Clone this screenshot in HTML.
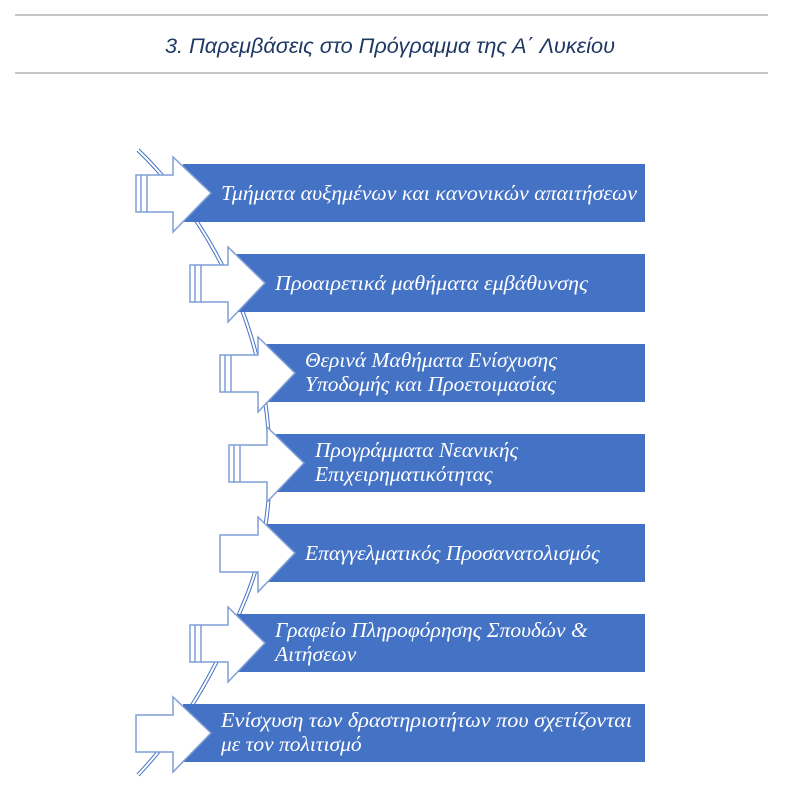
<!DOCTYPE html>
<html><head><meta charset="utf-8"><style>
body{margin:0;background:#fff;width:785px;height:811px;overflow:hidden}
svg{display:block}
</style></head><body>
<svg width="785" height="811" xmlns="http://www.w3.org/2000/svg">
<line x1="15" y1="15" x2="768" y2="15" stroke="#8c8c8c" stroke-width="1"/>
<line x1="15" y1="73" x2="768" y2="73" stroke="#8c8c8c" stroke-width="1"/>
<text x="165" y="53" textLength="450" lengthAdjust="spacingAndGlyphs" font-family="Liberation Sans, sans-serif" font-style="italic" font-size="21" fill="#1f3864">3. Παρεμβάσεις στο Πρόγραμμα της Α΄ Λυκείου</text>
<path d="M138,150 C190,200 250,290 265,400 C275,470 270,540 245,600 C220,660 190,720 138,775" fill="none" stroke="#4472c4" stroke-width="4"/>
<path d="M138,150 C190,200 250,290 265,400 C275,470 270,540 245,600 C220,660 190,720 138,775" fill="none" stroke="#fff" stroke-width="2"/>
<g font-family="Liberation Serif, serif" font-style="italic" font-size="21.5" fill="#fff">
<rect x="183" y="164" width="462" height="58" fill="#4472c4"/>
<polygon points="136,175 173,175 173,157 211,193 173,232 173,212 136,212" fill="#fff" stroke="#7f9fd6" stroke-width="1.5"/>
<line x1="141" y1="175" x2="141" y2="212" stroke="#7f9fd6" stroke-width="1.5"/><line x1="147" y1="175" x2="147" y2="212" stroke="#7f9fd6" stroke-width="1.5"/>
<text x="221" y="200" textLength="416" lengthAdjust="spacingAndGlyphs">Τμήματα αυξημένων και κανονικών απαιτήσεων</text>

<rect x="237" y="254" width="408" height="58" fill="#4472c4"/>
<polygon points="190,265 228,265 228,247 265,283 228,322 228,302 190,302" fill="#fff" stroke="#7f9fd6" stroke-width="1.5"/>
<line x1="195" y1="265" x2="195" y2="302" stroke="#7f9fd6" stroke-width="1.5"/><line x1="201" y1="265" x2="201" y2="302" stroke="#7f9fd6" stroke-width="1.5"/>
<text x="275" y="290" textLength="313" lengthAdjust="spacingAndGlyphs">Προαιρετικά μαθήματα εμβάθυνσης</text>

<rect x="267" y="344" width="378" height="58" fill="#4472c4"/>
<polygon points="220,355 258,355 258,337 295,373 258,412 258,392 220,392" fill="#fff" stroke="#7f9fd6" stroke-width="1.5"/>
<line x1="225" y1="355" x2="225" y2="392" stroke="#7f9fd6" stroke-width="1.5"/><line x1="231" y1="355" x2="231" y2="392" stroke="#7f9fd6" stroke-width="1.5"/>
<text><tspan x="305" y="367">Θερινά Μαθήματα Ενίσχυσης</tspan><tspan x="305" y="391">Υποδομής και Προετοιμασίας</tspan></text>

<rect x="276" y="434" width="369" height="58" fill="#4472c4"/>
<polygon points="229,445 267,445 267,427 304,463 267,502 267,482 229,482" fill="#fff" stroke="#7f9fd6" stroke-width="1.5"/>
<line x1="234" y1="445" x2="234" y2="482" stroke="#7f9fd6" stroke-width="1.5"/><line x1="240" y1="445" x2="240" y2="482" stroke="#7f9fd6" stroke-width="1.5"/>
<text><tspan x="315" y="457">Προγράμματα Νεανικής</tspan><tspan x="315" y="481">Επιχειρηματικότητας</tspan></text>

<rect x="267" y="524" width="378" height="58" fill="#4472c4"/>
<polygon points="220,535 258,535 258,517 295,553 258,592 258,572 220,572" fill="#fff" stroke="#7f9fd6" stroke-width="1.5"/>
<text x="305" y="560">Επαγγελματικός Προσανατολισμός</text>

<rect x="237" y="614" width="408" height="58" fill="#4472c4"/>
<polygon points="190,625 228,625 228,607 265,643 228,682 228,662 190,662" fill="#fff" stroke="#7f9fd6" stroke-width="1.5"/>
<line x1="195" y1="625" x2="195" y2="662" stroke="#7f9fd6" stroke-width="1.5"/><line x1="201" y1="625" x2="201" y2="662" stroke="#7f9fd6" stroke-width="1.5"/>
<text><tspan x="275" y="637">Γραφείο Πληροφόρησης Σπουδών &amp;</tspan><tspan x="275" y="661">Αιτήσεων</tspan></text>

<rect x="183" y="704" width="462" height="58" fill="#4472c4"/>
<polygon points="136,715 173,715 173,697 211,733 173,772 173,752 136,752" fill="#fff" stroke="#7f9fd6" stroke-width="1.5"/>
<text><tspan x="221" y="727" textLength="411" lengthAdjust="spacingAndGlyphs">Ενίσχυση των δραστηριοτήτων που σχετίζονται</tspan><tspan x="221" y="751">με τον πολιτισμό</tspan></text>
</g>
</svg>
</body></html>
